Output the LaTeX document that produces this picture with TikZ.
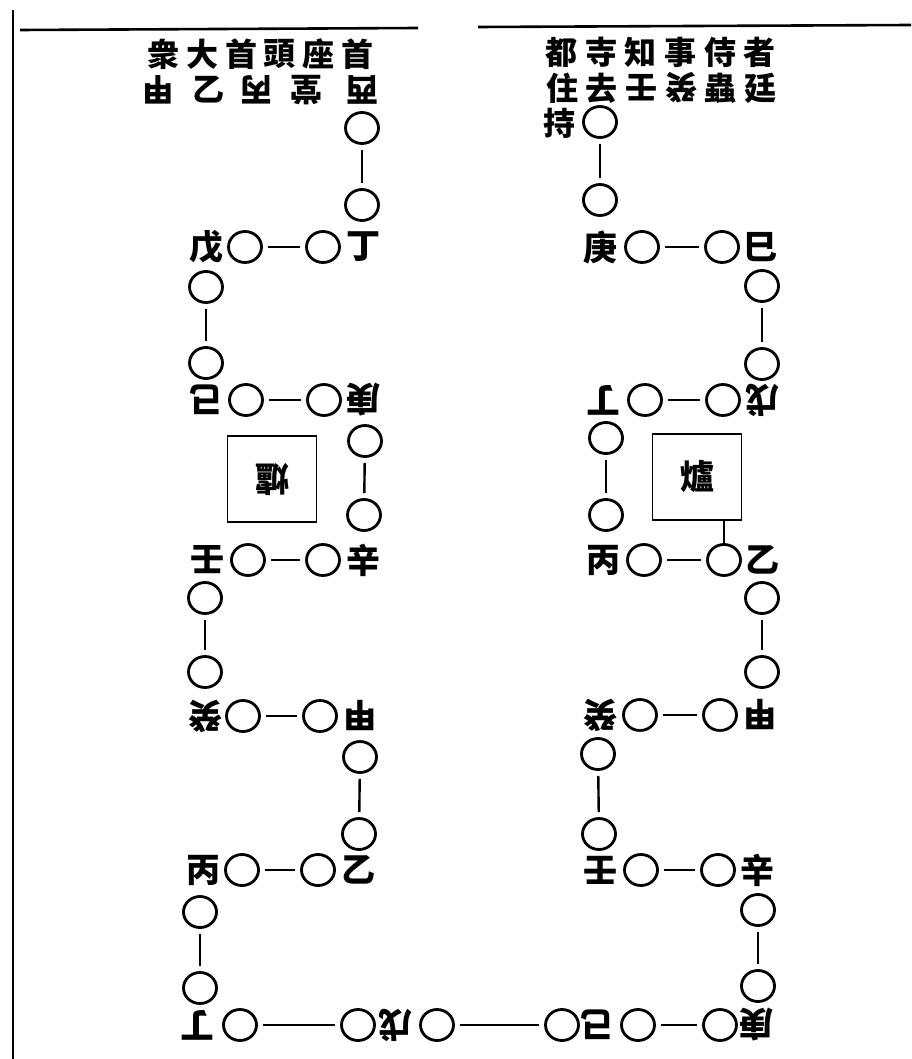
\documentclass[tikz,border=0pt]{standalone}
\usepackage{fontspec}
\newfontfamily\cjk{Noto Sans CJK TC}
\usetikzlibrary{positioning, shapes.geometric}
\tikzset{
  % ring on the walking path
  ring/.style={
    ellipse, draw=black, line width=2.8pt,
    minimum width=33pt, minimum height=31pt, inner sep=0pt
  },
  % stem character at a corner
  stem/.style={
    font=\cjk\bfseries\fontsize{34}{34}\selectfont, inner sep=0pt
  },
  % the same, printed upside down
  flipped/.style={stem, rotate=180},
  % heading character
  head/.style={
    font=\cjk\bfseries\fontsize{32}{32}\selectfont, inner sep=0pt
  },
  headflip/.style={head, rotate=180},
  % link between two rings
  link/.style={line width=2.4pt, shorten >=5pt, shorten <=5pt},
  % framed seat in the middle
  altar/.style={
    rectangle, draw=black, line width=1.8pt,
    minimum width=89pt, minimum height=86pt,
    font=\cjk\bfseries\fontsize{34}{34}\selectfont
  },
  % page rule
  rule/.style={line width=2.6pt}
}
\begin{document}
\begin{tikzpicture}[x=1pt, y=-1pt]

  \useasboundingbox (0,0) rectangle (911,1059);

  % ── Page rules ───────────────────────────────────────────────────────────
  \draw[rule] (13,10) -- (13,1059);
  \draw[rule] (20,30) -- (418,28);
  \draw[rule] (478,27) -- (911,25);

  % ── Headings ─────────────────────────────────────────────────────────────
  \foreach \c [count=\i] in {衆,大,首,頭,座,首}
    \node[head] (hl\i) at ({125+38.7*\i},54) {\c};
  \node[headflip] (hm1) at (158,90) {甲};
  \node[head]     (hm2) at (208,90) {乙};
  \node[headflip] (hm3) at (256,90) {丙};
  \node[headflip] (hm4) at (306,90) {堂};
  \node[headflip] (hm5) at (362,90) {西};

  \foreach \c [count=\i] in {都,寺,知,事,侍,者}
    \node[head] (hr\i) at ({522+39.6*\i},52) {\c};
  \node[head]     (hs1) at (562,88) {住};
  \node[head]     (hs2) at (601,88) {去};
  \node[headflip] (hs3) at (641,88) {壬};
  \node[headflip] (hs4) at (681,88) {癸};
  \node[head]     (hs5) at (720,88) {蟲};
  \node[head]     (hs6) at (760,88) {廷};
  \node[head]     (hs7) at (559,123) {持};

  % ── Rings ────────────────────────────────────────────────────────────────
  \foreach \n/\x/\y in {
      l1/362/128, l2/362/205, l3/245/247, l4/323/247,
      l5/206/287, l6/206/363, l7/246/400, l8/324/400,
      l9/365/441, l10/364/515, l11/248/560, l12/323/560,
      l13/205/598, l14/205/672, l15/243/716, l16/320/716,
      l17/360/757, l18/359/834, l19/242/870, l20/318/870,
      l21/200/912, l22/200/988,
      b1/240/1025, b2/358/1025, b3/437/1025, b4/562/1025,
      b5/638/1025, b6/720/1025,
      r0/600/122, r1/600/200, r2/642/247, r3/722/247,
      r4/762/286, r5/762/364, r6/645/400, r7/723/400,
      r8/606/438, r9/606/515, r10/644/560, r11/724/560,
      r12/762/598, r13/762/672, r14/640/715, r15/720/715,
      r16/598/754, r17/599/834, r18/641/870, r19/718/870,
      r20/758/910, r21/758/986}
    \node[ring] (\n) at (\x,\y) {};

  % ── Stems, left file ─────────────────────────────────────────────────────
  \node[stem]    (lDing) at (363,247) {丁};
  \node[stem]    (lWu)   at (206,247) {戊};
  \node[flipped] (lJi)   at (206,400) {己};
  \node[flipped] (lGeng) at (363,400) {庚};
  \node[stem]    (lXin)  at (363,560) {辛};
  \node[stem]    (lRen)  at (207,560) {壬};
  \node[flipped] (lGui)  at (205,716) {癸};
  \node[flipped] (lJia)  at (360,716) {甲};
  \node[stem]    (lYi)   at (358,870) {乙};
  \node[stem]    (lBing) at (203,870) {丙};

  % ── Stems, right file ────────────────────────────────────────────────────
  \node[stem]    (rGeng) at (600,247) {庚};
  \node[stem]    (rJi)   at (760,247) {巳};
  \node[flipped] (rWu)   at (762,400) {戊};
  \node[flipped] (rDing) at (603,400) {丁};
  \node[stem]    (rBing) at (603,560) {丙};
  \node[stem]    (rYi)   at (762,560) {乙};
  \node[flipped] (rJia)  at (760,715) {甲};
  \node[flipped] (rGui)  at (600,715) {癸};
  \node[flipped] (rRen)  at (600,870) {壬};
  \node[stem]    (rXin)  at (757,870) {辛};

  % ── Stems, bottom row ────────────────────────────────────────────────────
  \node[flipped] (bDing) at (197,1025) {丁};
  \node[flipped] (bWu)   at (395,1025) {戊};
  \node[flipped] (bJi)   at (597,1025) {己};
  \node[flipped] (bGeng) at (756,1025) {庚};

  % ── Seats ────────────────────────────────────────────────────────────────
  \node[altar, rotate=180] (lAltar) at (272,479) {爐};
  \node[altar]             (rAltar) at (697,477) {爐};

  % ── Links ────────────────────────────────────────────────────────────────
  \foreach \a/\b in {l1/l2, l3/l4, l5/l6, l7/l8, l9/l10, l11/l12,
                     l13/l14, l15/l16, l17/l18, l19/l20, l21/l22,
                     b1/b2, b3/b4, b5/b6,
                     r0/r1, r2/r3, r4/r5, r6/r7, r8/r9, r10/r11,
                     r12/r13, r14/r15, r16/r17, r18/r19, r20/r21}
    \draw[link] (\a) -- (\b);
  \draw[line width=1.2pt] (rAltar.south -| r11.north) -- (r11.north);

\end{tikzpicture}
\end{document}
